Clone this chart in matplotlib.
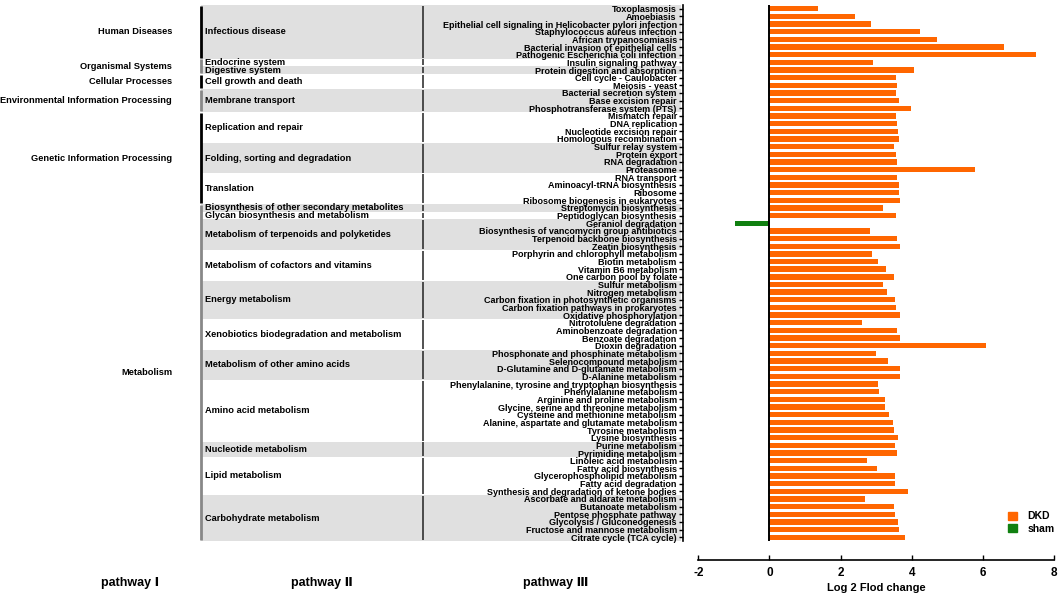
import matplotlib
matplotlib.use("Agg")
import matplotlib.pyplot as plt
from matplotlib.patches import Patch

plt.rcParams['font.family'] = ['Liberation Sans', 'DejaVu Sans']
plt.rcParams['font.weight'] = 'bold'

# pathway level I / II groups (name, number of rows)
level1 = [("Human Diseases", 7), ("Organismal Systems", 2), ("Cellular Processes", 2),
          ("Environmental Information Processing", 3), ("Genetic Information Processing", 12),
          ("Metabolism", 44)]
level2 = [("Infectious disease", 7), ("Endocrine system", 1), ("Digestive system", 1),
          ("Cell growth and death", 2), ("Membrane transport", 3), ("Replication and repair", 4),
          ("Folding, sorting and degradation", 4), ("Translation", 4),
          ("Biosynthesis of other secondary metabolites", 1), ("Glycan biosynthesis and metabolism", 1),
          ("Metabolism of terpenoids and polyketides", 4), ("Metabolism of cofactors and vitamins", 4),
          ("Energy metabolism", 5), ("Xenobiotics biodegradation and metabolism", 4),
          ("Metabolism of other amino acids", 4), ("Amino acid metabolism", 8),
          ("Nucleotide metabolism", 2), ("Lipid metabolism", 5), ("Carbohydrate metabolism", 6)]

pathways = [
    "Toxoplasmosis", "Amoebiasis", "Epithelial cell signaling in Helicobacter pylori infection",
    "Staphylococcus aureus infection", "African trypanosomiasis", "Bacterial invasion of epithelial cells",
    "Pathogenic Escherichia coli infection", "Insulin signaling pathway", "Protein digestion and absorption",
    "Cell cycle - Caulobacter", "Meiosis - yeast", "Bacterial secretion system", "Base excision repair",
    "Phosphotransferase system (PTS)", "Mismatch repair", "DNA replication", "Nucleotide excision repair",
    "Homologous recombination", "Sulfur relay system", "Protein export", "RNA degradation", "Proteasome",
    "RNA transport", "Aminoacyl-tRNA biosynthesis", "Ribosome", "Ribosome biogenesis in eukaryotes",
    "Streptomycin biosynthesis", "Peptidoglycan biosynthesis", "Geraniol degradation",
    "Biosynthesis of vancomycin group antibiotics", "Terpenoid backbone biosynthesis", "Zeatin biosynthesis",
    "Porphyrin and chlorophyll metabolism", "Biotin metabolism", "Vitamin B6 metabolism",
    "One carbon pool by folate", "Sulfur metabolism", "Nitrogen metabolism",
    "Carbon fixation in photosynthetic organisms", "Carbon fixation pathways in prokaryotes",
    "Oxidative phosphorylation", "Nitrotoluene degradation", "Aminobenzoate degradation",
    "Benzoate degradation", "Dioxin degradation", "Phosphonate and phosphinate metabolism",
    "Selenocompound metabolism", "D-Glutamine and D-glutamate metabolism", "D-Alanine metabolism",
    "Phenylalanine, tyrosine and tryptophan biosynthesis", "Phenylalanine metabolism",
    "Arginine and proline metabolism", "Glycine, serine and threonine metabolism",
    "Cysteine and methionine metabolism", "Alanine, aspartate and glutamate metabolism",
    "Tyrosine metabolism", "Lysine biosynthesis", "Purine metabolism", "Pyrimidine metabolism",
    "Linoleic acid metabolism", "Fatty acid biosynthesis", "Glycerophospholipid metabolism",
    "Fatty acid degradation", "Synthesis and degradation of ketone bodies",
    "Ascorbate and aldarate metabolism", "Butanoate metabolism", "Pentose phosphate pathway",
    "Glycolysis / Gluconeogenesis", "Fructose and mannose metabolism", "Citrate cycle (TCA cycle)"]

log2fc = [1.36, 2.4, 2.85, 4.23, 4.72, 6.6, 7.48, 2.91, 4.07,
          3.55, 3.59, 3.55, 3.63, 3.98, 3.57, 3.59, 3.61, 3.64,
          3.49, 3.55, 3.59, 5.78, 3.6, 3.63, 3.65, 3.67,
          3.19, 3.55, -0.97, 2.82, 3.6, 3.66,
          2.88, 3.05, 3.29, 3.5, 3.18, 3.31, 3.52, 3.57, 3.66,
          2.59, 3.6, 3.68, 6.08, 2.99, 3.33, 3.66, 3.68,
          3.05, 3.07, 3.24, 3.25, 3.35, 3.48, 3.51, 3.61,
          3.53, 3.59, 2.75, 3.01, 3.53, 3.53, 3.89,
          2.69, 3.51, 3.53, 3.61, 3.64, 3.82]

xticks = [-2, 0, 2, 4, 6, 8]

DKD_COLOR = '#ff6600'
SHAM_COLOR = '#108010'

W, H = 1059, 600
fig = plt.figure(figsize=(W / 100, H / 100), dpi=100)

top_px, bot_px = 4.9, 541.1
ax_bottom = 1 - bot_px / H
ax_height = (bot_px - top_px) / H
x0_px, x1_px = 698.3, 1054.0

n = len(pathways)
ypos = list(range(n))

# left annotation panel (pathway I / II), x in pixel units
axl = fig.add_axes([0, ax_bottom, 683 / W, ax_height])
axl.set_xlim(0, 683)
axl.set_ylim(n - 0.5, -0.5)
axl.axis('off')
axl.set_zorder(1)

start = 0
for k, (name, cnt) in enumerate(level2):
    lo, hi = start - 0.5, start + cnt - 0.5
    if k % 2 == 0:
        axl.fill_between([201, 681], lo, hi, color='#e0e0e0', lw=0)
    axl.plot([423, 423], [lo + 0.12, hi - 0.12], color='#222222', lw=1.1, solid_capstyle='butt')
    axl.text(205, (lo + hi) / 2, name, fontsize=6.7, ha='left', va='center')
    start += cnt

start = 0
for k, (name, cnt) in enumerate(level1):
    lo, hi = start - 0.5, start + cnt - 0.5
    lc = 'black' if k % 2 == 0 else '#888888'
    axl.plot([201, 201], [lo + 0.12, hi - 0.12], color=lc, lw=2, solid_capstyle='butt')
    axl.text(172, (lo + hi) / 2, name, fontsize=6.7, ha='right', va='center')
    start += cnt

# bar chart
ax = fig.add_axes([x0_px / W, ax_bottom, (x1_px - x0_px) / W, ax_height])
ax.set_zorder(2)
ax.patch.set_alpha(0)
colors = [DKD_COLOR if v >= 0 else SHAM_COLOR for v in log2fc]
ax.barh(ypos, log2fc, height=0.7, color=colors, edgecolor='none')
ax.axvline(0, color='black', lw=1.4)
ax.set_xlim(-2, 8)
ax.set_ylim(n - 0.5, -0.5)
ax.set_xticks(xticks)
ax.set_xticklabels([str(t) for t in xticks])
ax.set_yticks(ypos)
ax.set_yticklabels(pathways)
ax.spines['top'].set_visible(False)
ax.spines['right'].set_visible(False)
ax.spines['left'].set_position(('outward', 15.3 * 72 / 100))
ax.spines['bottom'].set_position(('outward', 19 * 72 / 100))
ax.spines['left'].set_linewidth(1.2)
ax.spines['bottom'].set_linewidth(1.2)
ax.tick_params(axis='y', direction='out', length=3, width=1, pad=1.5, labelsize=6.5)
ax.tick_params(axis='x', direction='in', length=3.5, width=1, pad=5, labelsize=8.5)
ax.set_xlabel('Log 2 Flod change', fontsize=8, fontweight='bold', labelpad=3)

handles = [Patch(color=DKD_COLOR, label='DKD'), Patch(color=SHAM_COLOR, label='sham')]
ax.legend(handles=handles, frameon=False, fontsize=7.5, loc='center left',
          bbox_to_anchor=(1003 / W, 1 - 522.5 / H), bbox_transform=fig.transFigure,
          handlelength=0.85, handleheight=0.85, handletextpad=1.0, labelspacing=0.2, borderpad=0)

fig.text(130 / W, 1 - 583 / H, 'pathway Ⅰ', fontsize=9, ha='center', va='center')
fig.text(322 / W, 1 - 583 / H, 'pathway Ⅱ', fontsize=9, ha='center', va='center')
fig.text(556 / W, 1 - 583 / H, 'pathway Ⅲ', fontsize=9, ha='center', va='center')

fig.savefig('out.png', dpi=100)
